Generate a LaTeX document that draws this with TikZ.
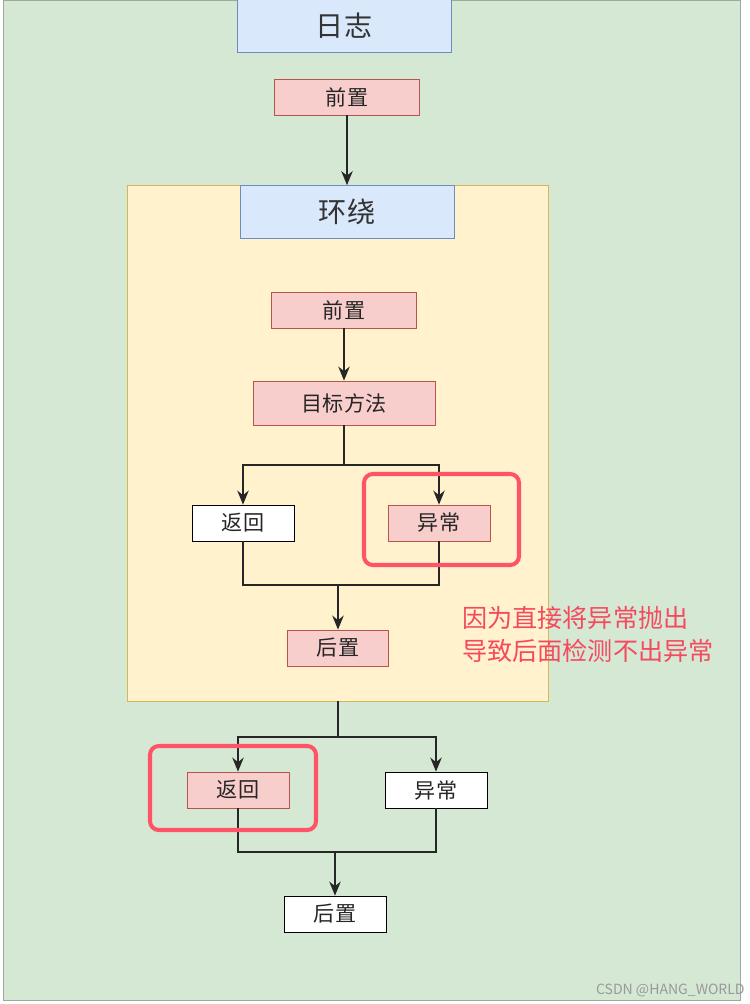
\documentclass[tikz,border=0pt]{standalone}
\usepackage{fontspec}
\usepackage{tikz}
\usetikzlibrary{arrows.meta, positioning}
\newfontfamily\cjk{Noto Sans CJK SC}
\definecolor{loggreen}{HTML}{D5E8D4}
\definecolor{logedge}{HTML}{9EAA9C}
\definecolor{wrapyellow}{HTML}{FFF2CC}
\definecolor{wrapedge}{HTML}{D6B656}
\definecolor{titleblue}{HTML}{DAE8FC}
\definecolor{titleedge}{HTML}{6C8EBF}
\definecolor{stepred}{HTML}{F8CECC}
\definecolor{stepedge}{HTML}{B85450}
\definecolor{markred}{HTML}{FF5468}
\definecolor{notered}{HTML}{F54A5E}
\tikzset{
  titlebox/.style={
    rectangle, draw=titleedge, fill=titleblue, minimum width=4.28cm,
    minimum height=1.06cm, font=\cjk\fontsize{16}{19}\selectfont, text=black!80
  },
  stepbox/.style={
    rectangle, draw=stepedge, fill=stepred, minimum width=2.9cm,
    minimum height=0.72cm, font=\cjk\fontsize{12}{14}\selectfont, text=black!85
  },
  plainbox/.style={
    rectangle, draw=black, fill=white, minimum width=2.04cm,
    minimum height=0.72cm, font=\cjk\fontsize{12}{14}\selectfont, text=black!85
  },
  wrapbox/.style={
    rectangle, draw=wrapedge, fill=wrapyellow, minimum width=8.42cm,
    minimum height=10.32cm
  },
  markbox/.style={draw=markred, line width=2.3pt, rounded corners=5pt},
  arrow/.style={-{Stealth[length=8pt, width=6.5pt]}, line width=1pt, color=black!85},
  line/.style={line width=1pt, color=black!85}
}
\begin{document}
\begin{tikzpicture}[x=0.02cm, y=-0.02cm]
  \useasboundingbox[fill=white] (0,0) rectangle (750,1004);
  \node[rectangle, draw=logedge, fill=loggreen, minimum width=14.74cm,
        minimum height=20cm] (outer) at (371.5,500) {};
  \node[wrapbox] (wrap) at (337.5,443) {};

  \node[titlebox] (log) at (344,26) {日志};
  \node[stepbox] (pre1) at (347,97) {前置};
  \node[titlebox] (around) at (347,212) {环绕};
  \node[stepbox] (pre2) at (344,310) {前置};
  \node[stepbox, minimum width=3.64cm, minimum height=0.88cm] (target) at (344,403) {目标方法};
  \node[plainbox] (ret1) at (243,523) {返回};
  \node[stepbox, minimum width=2.04cm] (exc1) at (439,523) {异常};
  \node[stepbox, minimum width=2.02cm] (post1) at (338,648) {后置};
  \node[stepbox, minimum width=2.04cm] (ret2) at (238,790) {返回};
  \node[plainbox] (exc2) at (436,790) {异常};
  \node[plainbox] (post2) at (335,914) {后置};

  \coordinate (split1) at (344,465);
  \coordinate (join1) at (338,585);
  \coordinate (split2) at (338,737);
  \coordinate (join2) at (335,852);

  \draw[arrow] (pre1) -- (around);
  \draw[arrow] (pre2) -- (target);
  \draw[line] (target.south) -- (split1);
  \draw[arrow] (split1) -| (ret1.north);
  \draw[arrow] (split1) -| (exc1.north);
  \draw[line] (ret1.south) |- (join1) -| (exc1.south);
  \draw[arrow] (join1) -- (post1.north);

  \draw[line] (wrap.south -| split2) -- (split2);
  \draw[arrow] (split2) -| (ret2.north);
  \draw[arrow] (split2) -| (exc2.north);
  \draw[line] (ret2.south) |- (join2) -| (exc2.south);
  \draw[arrow] (join2) -- (post2.north);

  \draw[markbox] (364,474) rectangle (519,565);
  \draw[markbox] (150,746) rectangle (316,830);

  \node[anchor=north west, align=left, text=notered,
        font=\cjk\fontsize{14.3}{18.7}\selectfont, inner sep=0pt] (note) at (462,606)
    {因为直接将异常抛出\\导致后面检测不出异常};
  \node[anchor=east, text=black!40, font=\cjk\fontsize{8}{9}\selectfont,
        inner sep=0pt] (mark) at (745,990) {CSDN @HANG\_WORLD};
\end{tikzpicture}
\end{document}
